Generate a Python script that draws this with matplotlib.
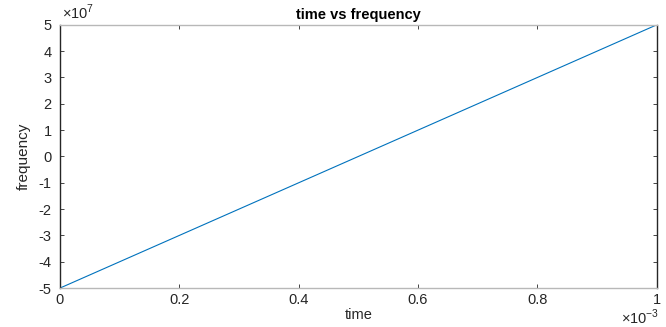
import numpy as np
import matplotlib.pyplot as plt

plt.rcParams['font.family'] = ['Liberation Sans', 'DejaVu Sans']
plt.rcParams['mathtext.fontset'] = 'custom'
plt.rcParams['mathtext.rm'] = 'Liberation Sans'

# data (time in s, frequency in Hz)
time = np.array([0.0, 1e-3])
frequency = np.array([-5e7, 5e7])
xticks = [0, 0.2e-3, 0.4e-3, 0.6e-3, 0.8e-3, 1e-3]
xticklabels = ['0', '0.2', '0.4', '0.6', '0.8', '1']
yticks = [-5e7, -4e7, -3e7, -2e7, -1e7, 0, 1e7, 2e7, 3e7, 4e7, 5e7]
yticklabels = ['-5', '-4', '-3', '-2', '-1', '0', '1', '2', '3', '4', '5']

fig = plt.figure(figsize=(6.66, 3.27), dpi=100)
ax = fig.add_axes([0.090, 0.119, 0.896, 0.805])

ax.plot(time, frequency, color='#0072BD', lw=0.8)

ax.set_xlim(0, 1e-3)
ax.set_ylim(-5e7, 5e7)
ax.set_xticks(xticks)
ax.set_xticklabels(xticklabels)
ax.set_yticks(yticks)
ax.set_yticklabels(yticklabels)

ax.tick_params(direction='in', length=3, width=0.6, labelsize=10.5,
               colors='#262626', top=True, right=True)
ax.tick_params(axis='y', pad=6)

# exponent labels like matlab
ax.text(0.003, 1.01, r'$\times10^{7}$', transform=ax.transAxes, fontsize=10.5,
        color='#262626', ha='left', va='bottom')
ax.text(1.005, -0.075, r'$\times10^{-3}$', transform=ax.transAxes, fontsize=10.5,
        color='#262626', ha='right', va='top')

ax.spines['left'].set_color('#262626')
ax.spines['right'].set_color('#262626')
ax.spines['top'].set_color('#b8b8b8')
ax.spines['bottom'].set_color('#b8b8b8')
for s in ax.spines.values():
    s.set_linewidth(1.0)

ax.set_title('time vs frequency', fontsize=10.5, fontweight='bold', pad=4)
ax.set_xlabel('time', fontsize=10.5, color='#262626', labelpad=1)
ax.set_ylabel('frequency', fontsize=11, color='#262626', labelpad=6,
              fontstretch='condensed', family=['Liberation Sans Narrow', 'Liberation Sans'])

fig.savefig('out.png', dpi=100)
